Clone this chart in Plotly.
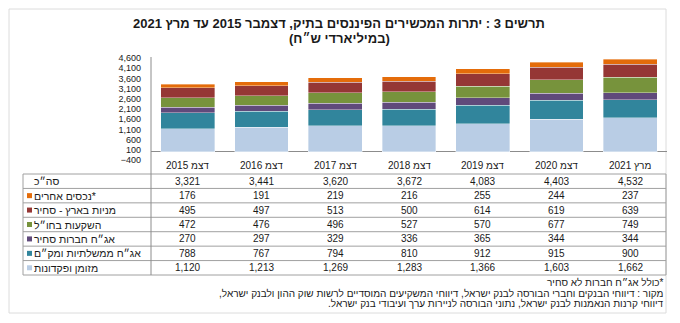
import plotly.graph_objects as go

# ---------------- data ----------------
categories = ["דצמ 2015", "דצמ 2016", "דצמ 2017", "דצמ 2018", "דצמ 2019", "דצמ 2020", "מרץ 2021"]
total = [3321, 3441, 3620, 3672, 4083, 4403, 4532]
other_assets = [176, 191, 219, 216, 255, 244, 237]
domestic_equity = [495, 497, 513, 500, 614, 619, 639]
abroad = [472, 476, 496, 527, 570, 677, 749]
corp_bonds = [270, 297, 329, 336, 365, 344, 344]
gov_bonds = [788, 767, 794, 810, 912, 915, 900]
cash = [1120, 1213, 1269, 1283, 1366, 1603, 1662]

series_names = ["מזומן ופקדונות", "אג״ח ממשלתיות ומק״ם", "אג״ח חברות סחיר",
                "השקעות בחו״ל", "מניות בארץ - סחיר", "*נכסים אחרים"]
series_values = [cash, gov_bonds, corp_bonds, abroad, domestic_equity, other_assets]
series_colors = ["#b9cde5", "#31859c", "#604a7b", "#77933c", "#953735", "#e46c0a"]

y_ticks = [-400, 100, 600, 1100, 1600, 2100, 2600, 3100, 3600, 4100, 4600]

title_line1 = "תרשים 3 : יתרות המכשירים הפיננסים בתיק, דצמבר 2015 עד מרץ 2021"
title_line2 = "(במיליארדי ש״ח)"
total_label = "סה״כ"
footnotes = [
    "*כולל אג״ח חברות לא סחיר",
    "מקור : דיווחי הבנקים וחברי הבורסה לבנק ישראל, דיווחי המשקיעים המוסדיים לרשות שוק ההון ולבנק ישראל,",
    "דיווחי קרנות הנאמנות לבנק ישראל, נתוני הבורסה לניירות ערך ועיבודי בנק ישראל.",
]

# ---------------- layout geometry (pixels) ----------------
W, H = 680, 323
PL, PR, PT, PB = 151, 667, 58, 160


def rtl(s):
    return "\u202b" + s + "\u202c"


def fx(p):
    return (p - PL) / (PR - PL)


def fy(p):
    return (PB - p) / (PB - PT)


FONT = "Liberation Sans, Arial, sans-serif"
TXT = "#1a1a1a"
LINE = "#a0a0a0"

fig = go.Figure()
for name, vals, col in zip(series_names, series_values, series_colors):
    fig.add_trace(go.Bar(
        x=categories, y=vals, name=name,
        marker=dict(color=col, line=dict(color="rgba(255,255,255,0.45)", width=0.8)),
        showlegend=False,
    ))

shapes = []
annotations = []

# outer frame
shapes.append(dict(type="rect", xref="paper", yref="paper",
                   x0=fx(9), x1=fx(666), y0=fy(9), y1=fy(313),
                   line=dict(color="#dcdcdc", width=1), layer="below"))

# title
annotations.append(dict(xref="paper", yref="paper", x=fx(339), y=fy(23),
                        text="<b>" + rtl(title_line1) + "</b>", showarrow=False,
                        xanchor="center", yanchor="middle",
                        font=dict(family=FONT, size=13, color=TXT)))
annotations.append(dict(xref="paper", yref="paper", x=fx(339), y=fy(38),
                        text="<b>" + rtl(title_line2) + "</b>", showarrow=False,
                        xanchor="center", yanchor="middle",
                        font=dict(family=FONT, size=13, color=TXT)))

# table geometry
T_LEFT, T_RIGHT = 23, 666
T_TOP, T_BOT = 174, 275
n_rows = 7
rh = (T_BOT - T_TOP) / n_rows

# horizontal lines of table
for i in range(n_rows + 1):
    yy = T_TOP + i * rh
    shapes.append(dict(type="line", xref="paper", yref="paper",
                       x0=fx(T_LEFT), x1=fx(T_RIGHT), y0=fy(yy), y1=fy(yy),
                       line=dict(color=LINE, width=1)))
# vertical lines
shapes.append(dict(type="line", xref="paper", yref="paper",
                   x0=fx(T_LEFT), x1=fx(T_LEFT), y0=fy(T_TOP), y1=fy(T_BOT),
                   line=dict(color=LINE, width=1)))
shapes.append(dict(type="line", xref="paper", yref="paper",
                   x0=fx(T_RIGHT), x1=fx(T_RIGHT), y0=fy(T_TOP), y1=fy(T_BOT),
                   line=dict(color=LINE, width=1)))
shapes.append(dict(type="line", xref="paper", yref="paper",
                   x0=0, x1=0, y0=fy(PT - 1), y1=fy(T_BOT),
                   line=dict(color="#8c8c8c", width=1)))

# header (categories)
for c in categories:
    annotations.append(dict(xref="x", yref="paper", x=c, y=fy(165), text=rtl(c),
                            showarrow=False, xanchor="center", yanchor="middle",
                            font=dict(family=FONT, size=10, color=TXT)))

# table rows: total first, then series from top (other) to bottom (cash)
row_labels = [total_label] + series_names[::-1]
row_values = [total] + series_values[::-1]
row_colors = [None] + series_colors[::-1]
for r, (lab, vals, col) in enumerate(zip(row_labels, row_values, row_colors)):
    yc = T_TOP + (r + 0.5) * rh
    annotations.append(dict(xref="paper", yref="paper", x=fx(33), y=fy(yc), text=rtl(lab),
                            showarrow=False, xanchor="left", yanchor="middle", borderpad=0,
                            font=dict(family=FONT, size=10.5, color=TXT)))
    if col is not None:
        shapes.append(dict(type="rect", xref="paper", yref="paper",
                           x0=fx(27), x1=fx(32), y0=fy(yc - 2.5), y1=fy(yc + 2.5),
                           fillcolor=col, line=dict(width=0)))
    for c, v in zip(categories, vals):
        annotations.append(dict(xref="x", yref="paper", x=c, y=fy(yc), text=f"{v:,}",
                                showarrow=False, xanchor="center", yanchor="middle",
                                font=dict(family=FONT, size=10, color=TXT)))

# footnotes
for k, t in enumerate(footnotes):
    annotations.append(dict(xref="paper", yref="paper", x=fx(665), y=fy(282.5 + 10.5 * k),
                            text=rtl(t), showarrow=False, xanchor="right", yanchor="middle",
                            borderpad=0,
                            font=dict(family=FONT, size=10, color=TXT)))

fig.update_layout(
    width=W, height=H,
    margin=dict(l=PL, r=W - PR, t=PT, b=H - PB, pad=0),
    paper_bgcolor="white", plot_bgcolor="white",
    barmode="stack", bargap=0.27,
    xaxis=dict(type="category", showticklabels=False, showline=False, showgrid=False,
               zeroline=False, ticks="", fixedrange=True),
    yaxis=dict(range=[-400, 4600], tickvals=y_ticks, tickformat=",d",
               showgrid=False, showline=False, zeroline=True,
               zerolinecolor="#8c8c8c", zerolinewidth=1, ticks="",
               ticklabelstandoff=9,
               tickfont=dict(family=FONT, size=9, color=TXT), fixedrange=True),
    shapes=shapes, annotations=annotations,
    font=dict(family=FONT, color=TXT),
)

fig.write_html("out.html")
